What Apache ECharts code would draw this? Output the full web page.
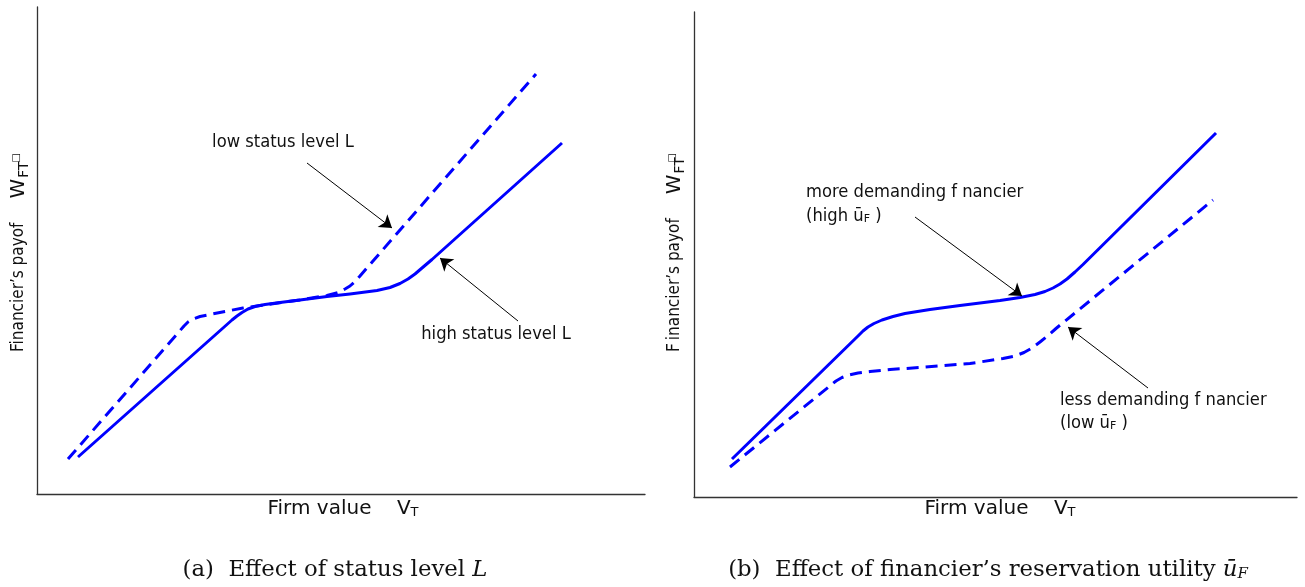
<!DOCTYPE html>
<html><head><meta charset="utf-8">
<script src="https://cdn.jsdelivr.net/npm/echarts@6/dist/echarts.min.js"></script>
<style>html,body{margin:0;padding:0;background:#fff}#c{width:1305px;height:587px}</style>
</head><body><div id="c"></div>
<script>
// ---- Panel (a): effect of status level L ----
const aHighX = [41, 195, 200, 205, 211, 218, 228, 243, 263, 290, 313, 340, 353, 363, 371, 378, 385, 395, 525];
const aHighY = [37, 174, 178, 181.5, 185, 187.5, 189.5, 191.5, 194, 197.5, 200, 203.5, 206.5, 210.5, 215, 220, 226, 234.5, 351];
const aLowX  = [31, 147, 151, 156, 163, 173, 188, 206, 223, 263, 290, 301, 308, 313, 318, 323, 329, 336, 499];
const aLowY  = [35, 168, 172, 175, 177.5, 179.5, 182.5, 186, 188.5, 194, 198.5, 201.5, 205, 208, 212.5, 218, 225, 233, 420];
const aArrowLow  = [[270, 331], [355, 266]];
const aArrowHigh = [[481, 173], [403, 236]];
const aXMax = 608, aYMax = 487;

// ---- Panel (b): effect of financier's reservation utility ----
const bHighX = [38, 164, 169, 174, 180, 188, 199, 211, 236, 266, 306, 326, 341, 351, 359, 366, 373, 381, 389, 522];
const bHighY = [38, 161, 166, 170, 173.5, 177, 180.5, 183.5, 187.5, 191.5, 196.5, 199.5, 202.5, 205.5, 209, 213, 218, 225, 232.5, 364];
const bLowX  = [36, 142, 148, 155, 164, 176, 196, 226, 276, 309, 321, 330, 338, 346, 354, 362, 519];
const bLowY  = [30, 116, 119.5, 122, 124, 125.5, 127.5, 129.5, 133.5, 138.5, 141, 144.5, 149, 155, 161.5, 168.5, 297];
const bArrowMore = [[221, 280], [328, 201]];
const bArrowLess = [[454, 109], [374, 170]];
const bXMax = 603, bYMax = 485;

const zip = (xs, ys) => xs.map((x, i) => [x, ys[i]]);
const BLUE = '#0000ff';
const SANS = '"DejaVu Sans", sans-serif';
const SANSC = '"DejaVu Sans Condensed", "DejaVu Sans", sans-serif';
const SERIF = '"DejaVu Serif", serif';

function axisX(idx, max) {
  return { type: 'value', gridIndex: idx, min: 0, max: max,
    axisLine: { show: true, onZero: false, lineStyle: { color: '#333', width: 1.3 } },
    axisTick: { show: false }, axisLabel: { show: false }, splitLine: { show: false } };
}
function axisY(idx, max) {
  return { type: 'value', gridIndex: idx, min: 0, max: max,
    axisLine: { show: true, onZero: false, lineStyle: { color: '#333', width: 1.3 } },
    axisTick: { show: false }, axisLabel: { show: false }, splitLine: { show: false } };
}
function arrows(list) {
  return {
    silent: true, animation: false,
    symbol: ['none', 'arrow'], symbolSize: 12,
    label: { show: false },
    lineStyle: { color: '#000', width: 1, type: 'solid' },
    emphasis: { disabled: true },
    data: list.map(a => [{ coord: a[0], symbol: 'none' }, { coord: a[1], symbol: 'arrow', symbolSize: 12 }])
  };
}
function curve(idx, data, dashed, ml) {
  const s = { type: 'line', xAxisIndex: idx, yAxisIndex: idx, data: data,
    showSymbol: false, smooth: false, silent: true,
    lineStyle: { color: BLUE, width: 3, type: dashed ? [12, 7] : 'solid', join: 'round' } };
  if (ml) s.markLine = ml;
  return s;
}
function yLabel(x, y, label) {
  return { type: 'group', x: x, y: y, rotation: Math.PI / 2, children: [
    { type: 'text', x: -102, y: 0, style: {
      text: label + "{w|W}{sub|FT}", fill: '#111',
      font: '17px ' + SANSC, align: 'left', verticalAlign: 'middle',
      rich: { w: { fontFamily: SANS, fontSize: 20, padding: [0, 0, 0, 24] },
              sub: { fontFamily: SANS, fontSize: 14, padding: [10, 0, 0, 1] } } } },
    { type: 'text', x: 92, y: -3, style: { text: '\u25A1', fill: '#111', font: '10px ' + SANS, align: 'center', verticalAlign: 'middle' } }
  ]};
}
function plainText(x, y, txt, opts) {
  return { type: 'text', x: x, y: y, style: Object.assign({ text: txt, fill: '#111',
    font: '18.2px ' + SANSC, align: 'center', verticalAlign: 'middle' }, opts || {}) };
}
const uRich = { sub: { fontFamily: SANS, fontSize: 11, padding: [7, 0, 0, 0] } };

const chart = echarts.init(document.getElementById('c'), null, { renderer: 'canvas' });
chart.setOption({
  backgroundColor: '#fff',
  animation: false,
  grid: [
    { left: 37, top: 7, width: 608, height: 487 },
    { left: 694, top: 12, width: 603, height: 485 }
  ],
  xAxis: [axisX(0, aXMax), axisX(1, bXMax)],
  yAxis: [axisY(0, aYMax), axisY(1, bYMax)],
  series: [
    curve(0, zip(aHighX, aHighY), false, arrows([aArrowHigh])),
    curve(0, zip(aLowX, aLowY), true, arrows([aArrowLow])),
    curve(1, zip(bHighX, bHighY), false, arrows([bArrowMore])),
    curve(1, zip(bLowX, bLowY), true, arrows([bArrowLess]))
  ],
  graphic: [
    yLabel(19, 250, "Financier\u2019s payof"),
    yLabel(675, 250, "F\u2009inancier\u2019s payof"),
    plainText(343, 509, 'Firm value    V{sub|T}', { font: '20px ' + SANS, rich: { sub: { fontFamily: SANS, fontSize: 13, padding: [8, 0, 0, 0] } } }),
    plainText(1000, 509, 'Firm value    V{sub|T}', { font: '20px ' + SANS, rich: { sub: { fontFamily: SANS, fontSize: 13, padding: [8, 0, 0, 0] } } }),
    plainText(283, 142, 'low status level L'),
    plainText(496, 334, 'high status level L'),
    plainText(806, 192, 'more demanding f nancier', { align: 'left' }),
    plainText(806, 216, '(high \u016B{sub|F} )', { align: 'left', rich: uRich }),
    plainText(1060, 400, 'less demanding f nancier', { align: 'left' }),
    plainText(1060, 423, '(low \u016B{sub|F} )', { align: 'left', rich: uRich }),
    plainText(335, 570, '(a)  Effect of status level {i|L}', { font: '22.8px ' + SERIF,
      rich: { i: { fontFamily: SERIF, fontStyle: 'italic', fontSize: 22.8 } } }),
    plainText(988, 570, '(b)  Effect of financier\u2019s reservation utility {i|\u016B}{s|F}', { font: '22.8px ' + SERIF,
      rich: { i: { fontFamily: SERIF, fontStyle: 'italic', fontSize: 22.8 }, s: { fontFamily: SERIF, fontStyle: 'italic', fontSize: 15, padding: [9, 0, 0, 0] } } })
  ]
});
</script>
</body></html>
